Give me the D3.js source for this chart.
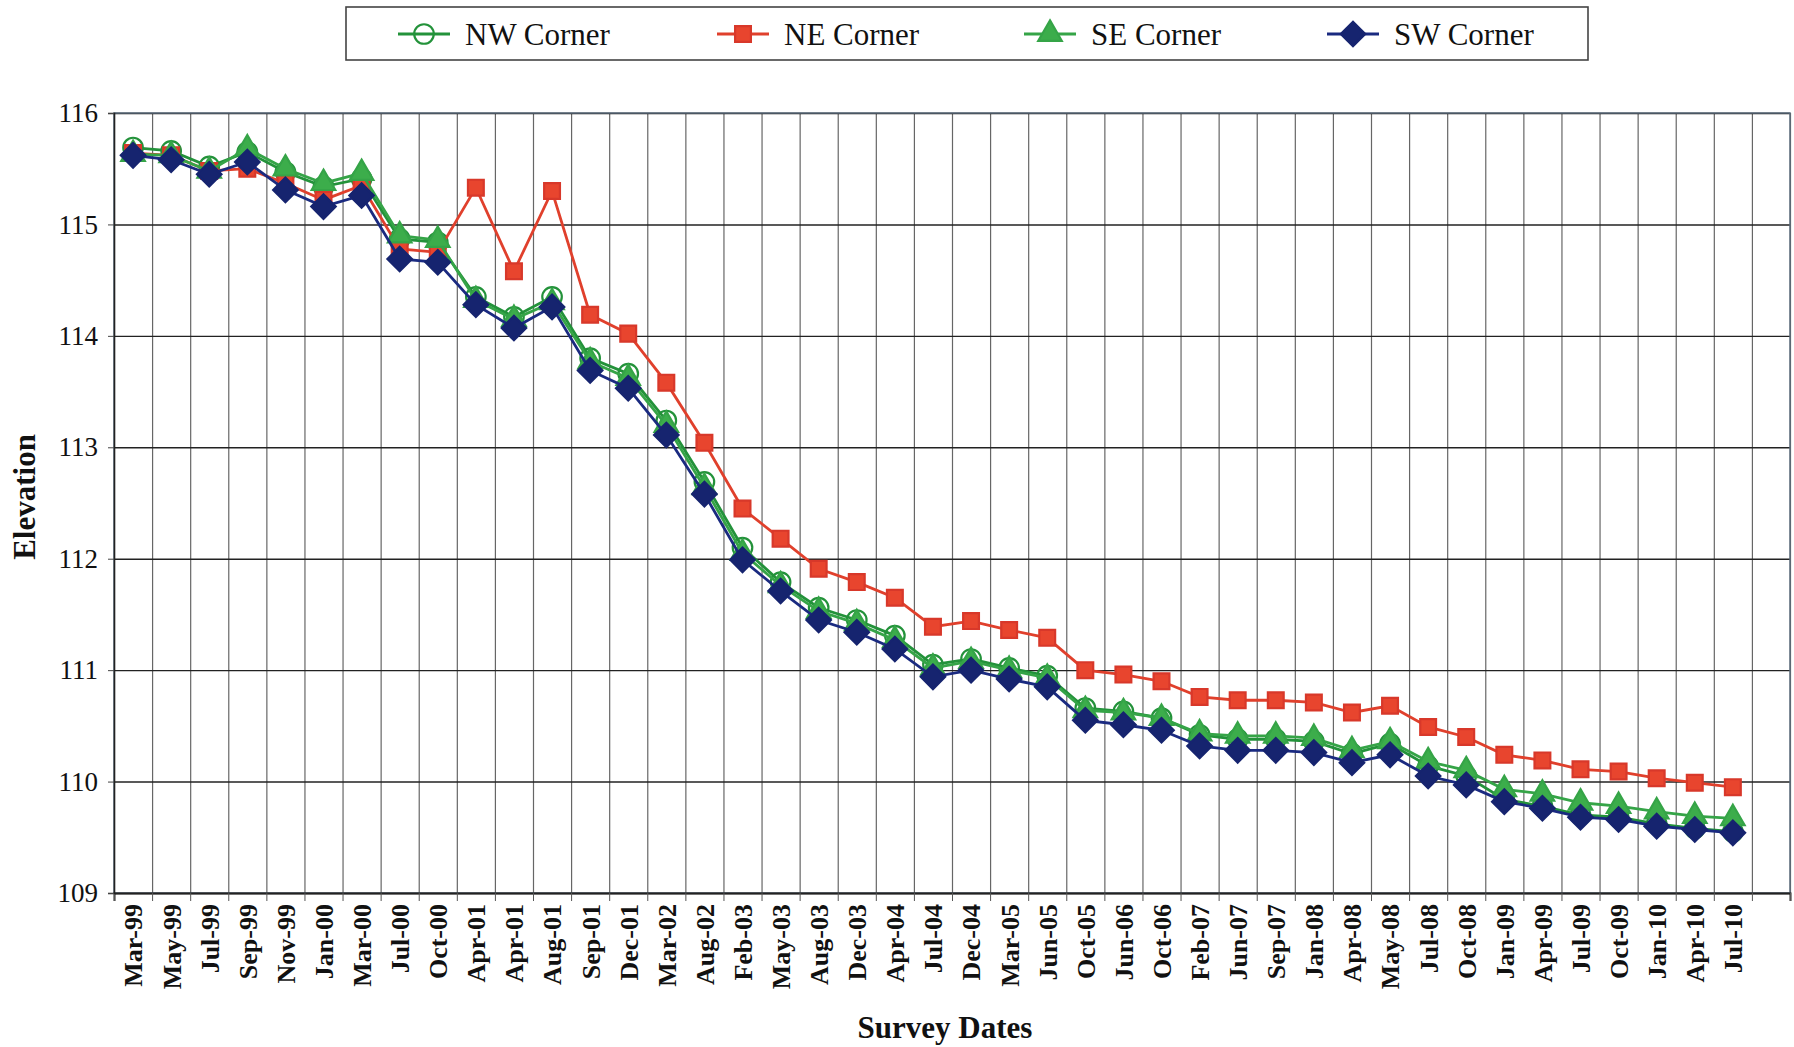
<!DOCTYPE html>
<html>
<head>
<meta charset="utf-8">
<script src="https://cdn.jsdelivr.net/npm/d3@7"></script>
<style>
  body { margin: 0; background: #fff; }
  text { font-family: "Liberation Serif", "Times New Roman", serif; fill: #111; }
</style>
</head>
<body>
<svg id="chart" width="1794" height="1047"></svg>
<script>
const surveyDates = ["Mar-99","May-99","Jul-99","Sep-99","Nov-99","Jan-00","Mar-00","Jul-00","Oct-00","Apr-01",
  "Apr-01","Aug-01","Sep-01","Dec-01","Mar-02","Aug-02","Feb-03","May-03","Aug-03","Dec-03",
  "Apr-04","Jul-04","Dec-04","Mar-05","Jun-05","Oct-05","Jun-06","Oct-06","Feb-07","Jun-07",
  "Sep-07","Jan-08","Apr-08","May-08","Jul-08","Oct-08","Jan-09","Apr-09","Jul-09","Oct-09",
  "Jan-10","Apr-10","Jul-10"];

const nwCorner = [115.69,115.66,115.52,115.65,115.47,115.34,115.41,114.87,114.84,114.35,
  114.17,114.35,113.80,113.66,113.24,112.69,112.10,111.79,111.56,111.45,
  111.31,111.05,111.10,111.02,110.95,110.66,110.63,110.57,110.42,110.38,
  110.38,110.36,110.25,110.34,110.14,110.05,109.84,109.78,109.70,109.68,
  109.62,109.58,109.55];

const neCorner = [115.64,115.62,115.48,115.50,115.37,115.22,115.35,114.78,114.75,115.33,
  114.58,115.30,114.19,114.02,113.58,113.04,112.45,112.18,111.91,111.79,
  111.65,111.39,111.44,111.36,111.29,111.00,110.96,110.90,110.76,110.73,
  110.73,110.71,110.62,110.68,110.49,110.40,110.24,110.19,110.11,110.09,
  110.03,109.99,109.95];

const seCorner = [115.63,115.62,115.48,115.68,115.50,115.37,115.46,114.90,114.86,114.32,
  114.15,114.30,113.77,113.62,113.20,112.64,112.05,111.76,111.53,111.42,
  111.27,111.02,111.08,111.00,110.93,110.64,110.62,110.57,110.43,110.41,
  110.41,110.39,110.28,110.36,110.18,110.10,109.93,109.89,109.81,109.78,
  109.73,109.69,109.67];

const swCorner = [115.62,115.58,115.45,115.56,115.31,115.16,115.26,114.69,114.66,114.28,
  114.07,114.26,113.69,113.53,113.11,112.58,111.99,111.71,111.45,111.34,
  111.19,110.94,111.00,110.92,110.85,110.55,110.51,110.46,110.32,110.28,
  110.28,110.26,110.17,110.24,110.05,109.97,109.82,109.76,109.68,109.66,
  109.60,109.57,109.54];

const seriesNames = ["NW Corner", "NE Corner", "SE Corner", "SW Corner"];

const serif = '"Liberation Serif", "Times New Roman", serif';

const svg = d3.select("#chart"),
    margin = { top: 113, right: 4, bottom: 154, left: 114 },
    width = +svg.attr("width") - margin.left - margin.right,
    height = +svg.attr("height") - margin.top - margin.bottom;

// one spare slot after the last survey, like the original sheet
const x = d3.scaleBand().domain(d3.range(surveyDates.length + 1)).range([0, width]);
const xEdge = d3.scaleLinear().domain([0, surveyDates.length + 1]).range([0, width]);
const y = d3.scaleLinear().domain([109, 116]).range([height, 0]);

const g = svg.append("g").attr("transform", `translate(${margin.left},${margin.top})`);

// gridlines
g.append("g")
    .attr("class", "grid grid--x")
    .call(d3.axisBottom(xEdge).ticks(surveyDates.length + 1).tickSize(height).tickFormat(""))
    .call(a => a.select(".domain").remove())
    .selectAll("line").attr("stroke", "#666").attr("stroke-width", 1.2);

g.append("g")
    .attr("class", "grid grid--y")
    .call(d3.axisLeft(y).ticks(7).tickSize(-width).tickFormat(""))
    .call(a => a.select(".domain").remove())
    .selectAll("line").attr("stroke", "#222").attr("stroke-width", 1.4);

// plot border
g.append("rect")
    .attr("width", width).attr("height", height)
    .attr("fill", "none").attr("stroke", "#5a6a7a").attr("stroke-width", 1.5);

// x axis: ticks on slot edges, labels in slot centres
g.append("g")
    .attr("class", "axis axis--x-ticks")
    .attr("transform", `translate(0,${height})`)
    .call(d3.axisBottom(xEdge).ticks(surveyDates.length + 1).tickSize(8).tickFormat(""))
    .call(a => a.selectAll("line").attr("stroke", "#555"))
    .call(a => a.select(".domain").attr("stroke", "#222").attr("stroke-width", 2));

g.append("g")
    .attr("class", "axis axis--x")
    .attr("transform", `translate(0,${height})`)
    .attr("font-family", serif)
    .call(d3.axisBottom(x).tickSize(0).tickFormat(i => surveyDates[i] ?? ""))
    .call(a => a.select(".domain").remove())
    .selectAll("text")
    .attr("transform", "rotate(-90)")
    .attr("text-anchor", "end")
    .attr("x", -11)
    .attr("y", 0)
    .attr("dy", "0.36em")
    .style("font-family", serif)
    .style("font-size", "26px")
    .style("font-weight", "bold");

g.append("g")
    .attr("class", "axis axis--y")
    .call(d3.axisLeft(y).ticks(7).tickSize(6).tickPadding(10).tickFormat(d3.format("d")))
    .attr("font-family", serif)
    .call(a => a.select(".domain").attr("stroke", "#222").attr("stroke-width", 1.5))
    .call(a => a.selectAll("line").attr("stroke", "#444"))
    .selectAll("text")
    .style("font-family", serif)
    .style("font-size", "27px");

// axis titles
svg.append("text")
    .attr("x", margin.left + width / 2 - 7)
    .attr("y", 1038)
    .attr("text-anchor", "middle")
    .style("font-family", serif)
    .style("font-size", "31px").style("font-weight", "bold")
    .text("Survey Dates");

svg.append("text")
    .attr("transform", `translate(35,${margin.top + height / 2 - 6}) rotate(-90)`)
    .attr("text-anchor", "middle")
    .style("font-family", serif)
    .style("font-size", "31px").style("font-weight", "bold")
    .text("Elevation");

// series
const series = [
  { name: seriesNames[0], values: nwCorner, line: "#23923a", type: d3.symbolCircle, size: 300, fill: "none", stroke: "#23923a", rot: 0 },
  { name: seriesNames[1], values: neCorner, line: "#e0402c", type: d3.symbolSquare, size: 250, fill: "#e8452e", stroke: "#d8382a", rot: 0 },
  { name: seriesNames[2], values: seCorner, line: "#35a447", type: d3.symbolTriangle, size: 240, fill: "#3cad4b", stroke: "#35a447", rot: 0 },
  { name: seriesNames[3], values: swCorner, line: "#1a2a80", type: d3.symbolSquare, size: 300, fill: "#16246f", stroke: "#16246f", rot: 45 }
];

const line = d3.line()
    .x((d, i) => x(i) + x.bandwidth() / 2)
    .y(d => y(d));

series.forEach(s => {
  g.append("path")
      .datum(s.values)
      .attr("class", "line")
      .attr("d", line)
      .attr("fill", "none")
      .attr("stroke", s.line)
      .attr("stroke-width", 2.8);

  g.selectAll(null)
      .data(s.values)
      .enter().append("path")
      .attr("d", d3.symbol().type(s.type).size(s.size))
      .attr("transform", (d, i) => `translate(${x(i) + x.bandwidth() / 2},${y(d)}) rotate(${s.rot})`)
      .attr("fill", s.fill)
      .attr("stroke", s.stroke)
      .attr("stroke-width", 2.2);
});

// legend
const legend = svg.append("g").attr("class", "legend");
legend.append("rect")
    .attr("x", 346).attr("y", 7).attr("width", 1242).attr("height", 53)
    .attr("fill", "#fff").attr("stroke", "#444").attr("stroke-width", 1.6);

const legendX = [398, 717, 1024, 1327];
series.forEach((s, k) => {
  const lg = legend.append("g").attr("transform", `translate(${legendX[k]},34)`);
  lg.append("line").attr("x1", 0).attr("x2", 52).attr("stroke", s.line).attr("stroke-width", 2.8);
  lg.append("path")
      .attr("d", d3.symbol().type(s.type).size(s.size))
      .attr("transform", `translate(26,0) rotate(${s.rot})`)
      .attr("fill", s.fill).attr("stroke", s.stroke).attr("stroke-width", 2.2);
  lg.append("text")
      .attr("x", 67).attr("dy", "0.35em")
      .style("font-family", serif)
      .style("font-size", "31px")
      .text(s.name);
});
</script>
</body>
</html>
